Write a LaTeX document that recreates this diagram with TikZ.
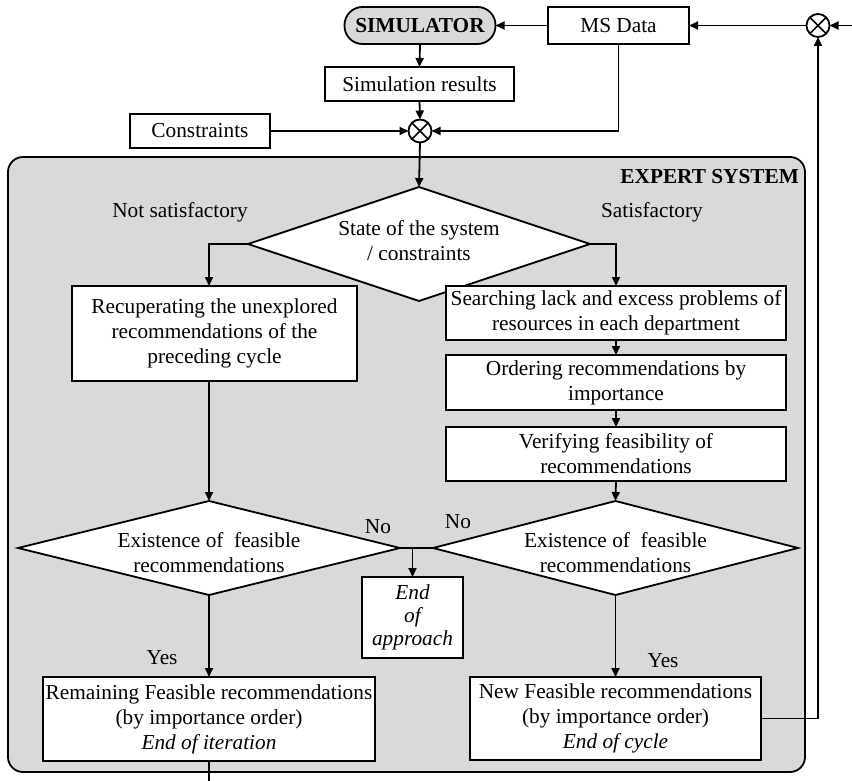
\documentclass[tikz,border=0pt]{standalone}
\usepackage{fontspec}
\setmainfont{Liberation Serif}
\usetikzlibrary{shapes.geometric,arrows.meta,calc}
\newcommand\mainfs{\fontsize{21.3pt}{25pt}\selectfont}
\definecolor{panel}{RGB}{217,217,217}
\tikzset{
  every node/.style={font=\mainfs, inner sep=0pt, outer sep=0pt},
  line/.style={line width=1.8pt},
  arr/.style={line width=1.8pt, -{Triangle[length=9pt,width=8pt]}},
  box/.style={draw, line width=1.8pt, fill=white, align=center},
  dia/.style={draw, line width=1.8pt, fill=white, diamond},
  ox/.style={draw, circle, line width=1.8pt, fill=white, minimum size=23pt,
    path picture={\draw[line width=1.6pt] (path picture bounding box.south west) -- (path picture bounding box.north east)
      (path picture bounding box.north west) -- (path picture bounding box.south east);}},
  lbl/.style={align=center}
}
\begin{document}
\begin{tikzpicture}[x=1pt,y=-1pt]
\useasboundingbox (0,0) rectangle (852,781);
% expert system panel
\node[draw, line width=1.8pt, fill=panel, rounded corners=15pt, minimum width=797pt, minimum height=615pt] (es) at (406.5,464.5) {};
\node[anchor=base east, font=\mainfs\bfseries] (eslbl) at (799,183) {EXPERT SYSTEM};

% top part
\node[box, fill=panel, rounded corners=18pt, minimum width=151pt, minimum height=37pt, font=\mainfs\bfseries] (sim) at (420,25.5) {SIMULATOR};
\node[box, minimum width=141pt, minimum height=37pt] (msdata) at (618.5,25.5) {MS Data};
\node[ox] (ox1) at (818,25.5) {};
\coordinate (rin) at (852,25.5);
\node[box, minimum width=189pt, minimum height=34pt] (results) at (419.5,84) {Simulation results};
\node[ox] (ox2) at (420,131) {};
\node[box, minimum width=140pt, minimum height=34pt] (constraints) at (200,131) {Constraints};

% decision 1
\node[dia, minimum width=342pt, minimum height=114pt] (d1) at (419,244) {};
\node[lbl] (d1t) at (419,241) {State of the system\\/ constraints};
\node (ns) at (180,212) {Not satisfactory};
\node (sa) at (652,212) {Satisfactory};

% left column
\node[box, minimum width=285pt, minimum height=95pt] (L1) at (214.5,333.5) {Recuperating the unexplored\\recommendations of the\\preceding cycle};

% right column
\node[box, minimum width=340pt, minimum height=54pt] (R1) at (616,313) {Searching lack and excess problems of\\resources in each department};
\node[box, minimum width=340pt, minimum height=55pt] (R2) at (616,382.5) {Ordering recommendations by\\importance};
\node[box, minimum width=340pt, minimum height=54pt] (R3) at (616,454) {Verifying feasibility of\\recommendations};

% decisions 2
\node[dia, minimum width=382pt, minimum height=94pt] (d2L) at (209,548) {};
\node[lbl] (d2Lt) at (209,553) {Existence of~ feasible\\recommendations};
\node[dia, minimum width=365pt, minimum height=94pt] (d2R) at (615.5,548) {};
\node[lbl] (d2Rt) at (615.5,553) {Existence of~ feasible\\recommendations};
\node (no1) at (378,527) {No};
\node (no2) at (458,522) {No};

% end of approach
\node[box, minimum width=101pt, minimum height=81pt, font=\fontsize{21.3pt}{23pt}\selectfont\itshape] (endb) at (412.5,617.5) {End\\of\\approach};

% results boxes
\node (yes1) at (162,658) {Yes};
\node (yes2) at (663,661) {Yes};
\node[box, minimum width=332pt, minimum height=84pt] (B1) at (209,719) {Remaining Feasible recommendations\\(by importance order)\\\textit{End of iteration}};
\node[box, minimum width=291pt, minimum height=83pt] (B2) at (615.5,718.5) {New Feasible recommendations\\(by importance order)\\\textit{End of cycle}};
\coordinate (bout) at (209,781);

% connectors
\draw[arr] (rin) -- (ox1.east);
\draw[arr] (ox1.west) -- (msdata.east);
\draw[arr] (msdata.west) -- (sim.east);
\draw[arr] (sim.south) -- (results.north);
\draw[arr] (results.south) -- (ox2.north);
\draw[arr] (constraints.east) -- (ox2.west);
\draw[arr] (msdata.south) |- (ox2.east);
\draw[arr] (ox2.south) -- (d1.north);
\draw[arr] (d1.west) -| (d2L.north |- L1.north);
\draw[arr] (d1.east) -| (R1.north);
\draw[arr] (R1.south) -- (R2.north);
\draw[arr] (R2.south) -- (R3.north);
\draw[arr] (R3.south) -- (d2R.north);
\draw[arr] (d2L.north |- L1.south) -- (d2L.north);
\draw[line] (d2L.east) -- (d2R.west);
\draw[arr] (endb.north |- d2L.east) -- (endb.north);
\draw[arr] (d2L.south) -- (B1.north);
\draw[arr] (d2R.south) -- (B2.north);
\draw[line] (B1.south) -- (bout);
\draw[arr] (B2.east) -| (ox1.south);
\end{tikzpicture}
\end{document}
